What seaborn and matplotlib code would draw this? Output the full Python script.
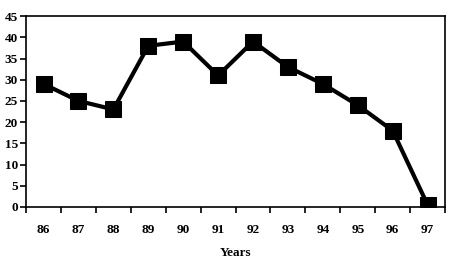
import matplotlib
matplotlib.use("Agg")
import matplotlib.pyplot as plt
import seaborn as sns
import numpy as np
import pandas as pd
from matplotlib.ticker import FixedLocator, FixedFormatter, NullFormatter

years = ["86", "87", "88", "89", "90", "91", "92", "93", "94", "95", "96", "97"]
values = [29, 25, 23, 38, 39, 31, 39, 33, 29, 24, 18, 0.5]

sns.set_theme(style="white")
plt.rcParams['font.family'] = ['Liberation Serif', 'DejaVu Serif']
plt.rcParams['font.weight'] = 'bold'
plt.rcParams['text.color'] = 'black'
plt.rcParams['axes.labelcolor'] = 'black'
plt.rcParams['xtick.color'] = 'black'
plt.rcParams['ytick.color'] = 'black'

df = pd.DataFrame({"pos": np.arange(len(years)), "value": values})

fig = plt.figure(figsize=(4.5, 2.6), dpi=100)
ax = fig.add_axes([0.058, 0.204, 0.931, 0.734])
sns.lineplot(data=df, x="pos", y="value", ax=ax, color="black", linewidth=3,
             marker="s", markersize=11, markeredgecolor="black", markerfacecolor="black")

n = len(years)
ax.set_xlim(-0.5, n - 0.5)
ax.set_ylim(0, 45)
ax.set_yticks(range(0, 46, 5))
ax.xaxis.set_major_locator(FixedLocator(np.arange(-0.5, n, 1.0)))
ax.xaxis.set_major_formatter(NullFormatter())
ax.xaxis.set_minor_locator(FixedLocator(np.arange(n)))
ax.xaxis.set_minor_formatter(FixedFormatter(years))
ax.tick_params(axis="x", which="major", direction="out", length=4, width=1.2, color="black", bottom=True)
ax.tick_params(axis="x", which="minor", length=0, pad=12, labelsize=9.5, labelcolor="black", bottom=True)
ax.tick_params(axis="y", which="major", direction="out", length=4, width=1.2, color="black", labelsize=9.5, labelcolor="black", left=True, pad=2)
for lab in ax.get_xticklabels(minor=True) + ax.get_yticklabels():
    lab.set_fontweight("bold")

ax.set_xlabel("Years", fontsize=9.5, fontweight="bold", labelpad=8, color="black")
ax.set_ylabel("")
for s in ax.spines.values():
    s.set_color("black")
    s.set_linewidth(1.2)
    s.set_visible(True)

fig.savefig("out.png", dpi=100)
